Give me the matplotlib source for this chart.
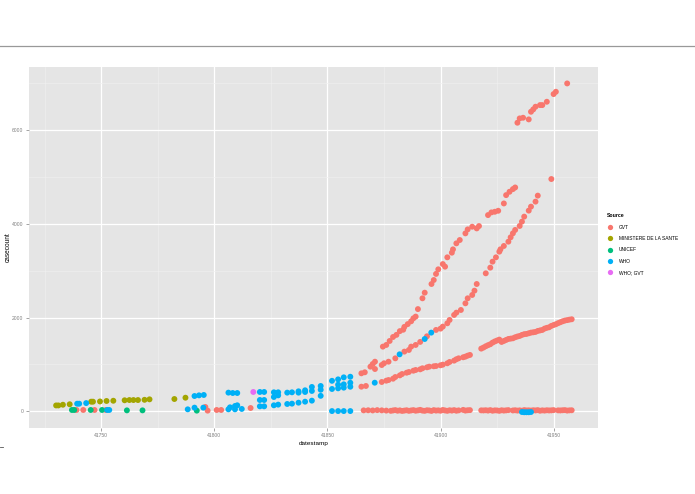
import numpy as np
import matplotlib
matplotlib.use("Agg")
import matplotlib.pyplot as plt
from matplotlib.lines import Line2D

plt.rcParams["font.family"] = ["Liberation Sans", "DejaVu Sans"]

# Source categories and ggplot default hue colours
sources = ["GVT", "MINISTERE DE LA SANTE", "UNICEF", "WHO", "WHO; GVT"]
colors = ["#F8766D", "#A3A500", "#00BF7D", "#00B0F6", "#E76BF3"]

# GVT - early scattered points
gvt_early_x = [41739, 41742, 41747, 41752, 41796, 41797, 41801, 41803, 41816]
gvt_early_y = [28, 28, 28, 28, 92, 14, 28, 28, 70]

# GVT - near-zero row
gvt_zero_x = [41866, 41868, 41870, 41872, 41874, 41876,
              41878, 41879, 41880, 41881, 41882, 41883, 41884, 41885, 41886, 41887,
              41888, 41889, 41890, 41891, 41892, 41893, 41894, 41895, 41896, 41897,
              41898, 41899, 41900, 41901, 41902, 41903, 41904, 41905, 41906, 41907, 41908,
              41910, 41911, 41912, 41913,
              41918, 41919, 41920, 41921, 41922, 41923, 41924, 41925, 41926, 41927,
              41928, 41929, 41930,
              41932, 41933, 41934, 41935, 41936, 41937, 41938, 41939, 41940, 41941,
              41942, 41943, 41944, 41945, 41946, 41947, 41948, 41949, 41950,
              41952, 41953, 41954, 41955, 41956, 41957, 41958]
gvt_zero_y = [20, 22, 18, 25, 20, 15,
              10, 18, 25, 12, 20, 8, 15, 22, 10, 18,
              25, 12, 20, 30, 15, 10, 22, 18, 8, 25,
              15, 20, 12, 28, 18, 10, 22, 15, 25, 12, 20,
              30, 15, 22, 25,
              20, 18, 22, 15, 25, 12, 20, 18, 10, 22,
              15, 20, 25,
              18, 22, 15, 20, 12, 25, 18, 20, 15, 22,
              18, 25, 12, 20, 15, 22, 18, 20, 25,
              20, 18, 22, 25, 15, 20, 22]

# GVT - lower curve
gvt_low_x = [41865, 41867, 41874, 41876, 41877, 41879, 41880, 41882, 41883, 41885,
             41886, 41888, 41889, 41891, 41892, 41894, 41895, 41897, 41898, 41900,
             41901, 41903, 41904, 41906, 41907, 41908, 41910, 41911, 41912, 41913,
             41918, 41919, 41920, 41921, 41922, 41923, 41924, 41925, 41926, 41927,
             41928, 41929, 41930, 41931, 41932, 41933, 41934, 41935, 41936, 41937,
             41938, 41939, 41940, 41941, 41942, 41943, 41944, 41945, 41946, 41947,
             41948, 41949, 41950, 41951, 41952, 41953, 41954, 41955, 41956, 41957, 41958]
gvt_low_y = [525, 540, 625, 653, 667, 695, 731, 766, 795, 823,
             838, 866, 881, 895, 917, 938, 952, 960, 966, 981,
             995, 1024, 1052, 1081, 1110, 1130, 1152, 1166, 1187, 1202,
             1337, 1360, 1387, 1410, 1430, 1465, 1490, 1510, 1529, 1479,
             1500, 1522, 1543, 1550, 1557, 1579, 1595, 1607, 1629, 1645,
             1650, 1664, 1678, 1685, 1693, 1714, 1725, 1735, 1764, 1780,
             1792, 1821, 1840, 1857, 1880, 1900, 1920, 1935, 1945, 1955, 1963]

# GVT - middle curve
gvt_mid_x = [41865, 41866.5, 41869, 41870, 41871, 41871, 41874, 41875, 41877, 41880,
             41884, 41886, 41887, 41889, 41891, 41894, 41898, 41900, 41901, 41903,
             41904, 41906, 41907, 41909, 41911, 41912, 41914, 41915, 41916, 41920,
             41922, 41923, 41924.5, 41926, 41926.5, 41928, 41930, 41931, 41932, 41933,
             41935, 41936, 41937, 41939, 41940, 41942, 41943, 41949]
gvt_mid_y = [810, 832, 952, 1009, 1058, 902, 987, 1024, 1058, 1130,
             1273, 1308, 1379, 1415, 1480, 1600, 1735, 1763, 1806, 1877,
             1948, 2055, 2104, 2161, 2303, 2410, 2481, 2573, 2715, 2943,
             3064, 3192, 3284, 3405, 3455, 3526, 3618, 3711, 3796, 3868,
             3953, 4045, 4152, 4280, 4365, 4472, 4600, 4954]

# GVT - upper curve
gvt_up_x = [41874.5, 41876, 41877.5, 41879, 41880.5, 41882, 41883.5, 41884, 41885.5, 41887,
            41888, 41889, 41890, 41892, 41893, 41896, 41897, 41898, 41899, 41901,
            41902, 41903, 41905, 41905.5, 41907, 41908.5, 41911, 41912, 41914, 41916,
            41917, 41921, 41922.5, 41924, 41925.5, 41928, 41929, 41930.5, 41932, 41933,
            41934, 41935, 41936.5, 41939, 41940, 41941, 41942, 41944, 41945, 41947,
            41950, 41951, 41956]
gvt_up_y = [1379, 1415, 1500, 1585, 1630, 1710, 1740, 1800, 1860, 1920,
            1983, 2020, 2180, 2410, 2530, 2715, 2800, 2930, 3028, 3140,
            3085, 3284, 3383, 3454, 3582, 3653, 3795, 3880, 3937, 3901,
            3951, 4185, 4242, 4256, 4277, 4433, 4611, 4682, 4739, 4774,
            6155, 6247, 6261, 6226, 6389, 6439, 6496, 6531, 6531, 6602,
            6766, 6815, 6993]

# MINISTERE DE LA SANTE
min_x = [41730, 41731, 41733, 41736, 41745.5, 41746.3, 41749.4, 41752.3, 41755.3,
         41760.3, 41762.4, 41764.2, 41766.2, 41769.1, 41771.3, 41782.3, 41787.2]
min_y = [125, 125, 140, 150, 205, 205, 210, 220, 225,
         235, 240, 240, 240, 245, 255, 262, 290]

# UNICEF
unicef_x = [41737, 41738, 41745.3, 41750.3, 41761.3, 41768.2, 41792.2]
unicef_y = [28, 28, 28, 28, 20, 20, 14]

# WHO
who_x = [41739.3, 41740.2, 41743.3, 41752.6, 41753.5,
         41788.2, 41791.2, 41791.2, 41793.2, 41795.1,
         41795.3, 41806.2, 41806.2, 41806.9, 41808.1,
         41809.1, 41809.1, 41810.1, 41810.1, 41812.1,
         41820.1, 41820.1, 41820.1, 41822, 41822, 41822,
         41826.3, 41826.3, 41826.3, 41828.2, 41828.2, 41828.2,
         41832.2, 41832.2, 41834.3, 41834.3,
         41837.2, 41837.2, 41837.2, 41840.1, 41840.1, 41840.1,
         41843.1, 41843.1, 41843.1, 41847, 41847, 41847,
         41852, 41852, 41852, 41854.7, 41854.7, 41854.7, 41854.7,
         41857.2, 41857.2, 41857.2, 41857.2, 41860.1, 41860.1, 41860.1, 41860.1,
         41870.9, 41881.9, 41893, 41895.9,
         41936, 41937, 41938, 41939, 41940]
who_y = [162, 162, 175, 28, 28,
         42, 78, 326, 340, 78,
         348, 42, 398, 85, 390,
         42, 113, 128, 390, 50,
         412, 241, 106, 412, 241, 106,
         405, 305, 128, 405, 340, 142,
         398, 156, 405, 163,
         426, 398, 184, 448, 412, 205,
         519, 434, 227, 540, 460, 330,
         650, 476, 5, 681, 568, 490, 5,
         724, 575, 504, 5, 737, 609, 524, 5,
         610, 1215, 1542, 1678,
         -15, -20, -20, -20, -15]

# WHO; GVT
whogvt_x = [41817.2]
whogvt_y = [412]

gvt_x = gvt_early_x + gvt_zero_x + gvt_low_x + gvt_mid_x + gvt_up_x
gvt_y = gvt_early_y + gvt_zero_y + gvt_low_y + gvt_mid_y + gvt_up_y

series = [(gvt_x, gvt_y), (min_x, min_y), (unicef_x, unicef_y),
          (who_x, who_y), (whogvt_x, whogvt_y)]

fig = plt.figure(figsize=(6.95, 4.94), dpi=100)
fig.patch.set_facecolor("white")
ax = fig.add_axes([0.0417, 0.1342, 0.8183, 0.7308])
ax.set_facecolor("#E5E5E5")

for (sx, sy), c, name in zip(series, colors, sources):
    ax.scatter(sx, sy, s=18, color=c, edgecolors="none", label=name, zorder=3)

ax.set_xlim(41718, 41969.5)
ax.set_ylim(-350, 7350)
ax.set_xticks([41750, 41800, 41850, 41900, 41950])
ax.set_xticks([41725, 41775, 41825, 41875, 41925], minor=True)
ax.set_yticks([0, 2000, 4000, 6000])
ax.set_yticks([1000, 3000, 5000, 7000], minor=True)
ax.grid(which="major", color="white", linewidth=0.9, zorder=0)
ax.grid(which="minor", color="#F0F0F0", linewidth=0.45, zorder=0)
ax.set_axisbelow(True)
for sp in ax.spines.values():
    sp.set_visible(False)
ax.tick_params(which="major", length=2, width=0.5, color="#7F7F7F",
               labelsize=3.6, labelcolor="#7F7F7F", pad=2)
ax.tick_params(which="minor", length=0)

ax.set_xlabel("datestamp", fontsize=4.6, labelpad=2)
ax.set_ylabel("casecount", fontsize=4.7)
ax.yaxis.set_label_coords(-0.030, 0.5)

handles = [Line2D([], [], marker="o", linestyle="", markersize=3.8,
                  markerfacecolor=c, markeredgecolor="none") for c in colors]
leg = fig.legend(handles, sources, loc="upper left", bbox_to_anchor=(0.870, 0.572),
                 frameon=False, fontsize=3.5, title="Source", handletextpad=0.9,
                 labelspacing=1.3, handlelength=1.6, borderaxespad=0)
leg.get_title().set_fontsize(3.7)
leg.get_title().set_fontweight("bold")
leg._legend_box.align = "left"

# thin rule across the top of the figure
fig.add_artist(Line2D([0, 1], [0.907, 0.907], transform=fig.transFigure,
                      color="#999999", linewidth=0.9))
# small stray tick at the lower left edge
fig.add_artist(Line2D([0, 0.004], [0.096, 0.096], transform=fig.transFigure,
                      color="#555555", linewidth=0.6))

fig.savefig("out.png", dpi=100, facecolor="white")
